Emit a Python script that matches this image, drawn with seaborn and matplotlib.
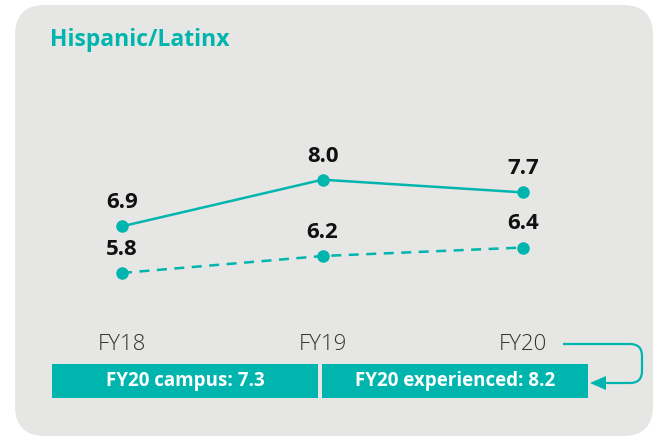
import matplotlib
matplotlib.use("Agg")
import matplotlib.pyplot as plt
import seaborn as sns
import pandas as pd
import matplotlib.transforms as mtrans
from matplotlib.patches import FancyBboxPatch, Rectangle
from matplotlib.path import Path
import matplotlib.patches as mpatches

years = ["FY18", "FY19", "FY20"]
experienced = [6.9, 8.0, 7.7]
campus = [5.8, 6.2, 6.4]
title = "Hispanic/Latinx"
summary_labels = ["FY20 campus: 7.3", "FY20 experienced: 8.2"]

TEAL = "#00b5ae"
PANEL = "#e6e6e4"

sns.set_theme(style="white")
plt.rcParams["font.family"] = ["Open Sans", "DejaVu Sans"]

fig = plt.figure(figsize=(6.56, 4.37), dpi=100)
fig.patch.set_facecolor("white")

# Decoration layer in pixel coordinates
deco = fig.add_axes([0, 0, 1, 1], zorder=0)
deco.set_xlim(0, 656)
deco.set_ylim(437, 0)
deco.axis("off")
deco.add_patch(FancyBboxPatch((15, 5), 638, 431, boxstyle="round,pad=0,rounding_size=30",
                              fc=PANEL, ec="none"))
deco.text(50, 40, title, color=TEAL, fontsize=16.5, fontweight="bold", va="center", ha="left")

# Summary boxes
boxes = [(52, 318), (322, 588)]
for (x0, x1), lab in zip(boxes, summary_labels):
    deco.add_patch(Rectangle((x0, 364), x1 - x0, 34, fc=TEAL, ec="none"))
    deco.text((x0 + x1) / 2, 381, lab, color="white", fontsize=13.5, fontweight="bold",
              ha="center", va="center")

# Connector arrow
r = 12
verts = [(563, 344), (642 - r, 344), (642, 344), (642, 344 + r), (642, 383 - r),
         (642, 383), (642 - r, 383), (600, 383)]
codes = [Path.MOVETO, Path.LINETO, Path.CURVE3, Path.CURVE3, Path.LINETO,
         Path.CURVE3, Path.CURVE3, Path.LINETO]
deco.add_patch(mpatches.PathPatch(Path(verts, codes), fc="none", ec=TEAL, lw=1.6))
deco.add_patch(mpatches.Polygon([(590, 383), (606, 376), (606, 390)], closed=True, fc=TEAL, ec="none"))

# Data layer
ax = fig.add_axes([0, 0, 1, 1], zorder=1)
ax.patch.set_alpha(0)
ppx = 200.5
xlim = (-122 / ppx, (656 - 122) / ppx)
ylim = (1.931, 12.238)

xs = list(range(len(years)))
df = pd.DataFrame({"x": xs * 2, "v": experienced + campus,
                   "series": ["experienced"] * 3 + ["campus"] * 3})
sns.lineplot(data=df[df.series == "experienced"], x="x", y="v", ax=ax, color=TEAL, lw=1.8,
             marker="o", markersize=9, markeredgewidth=0, legend=False)
sns.lineplot(data=df[df.series == "campus"], x="x", y="v", ax=ax, color=TEAL, lw=1.8,
             linestyle=(0, (4, 3)), marker="o", markersize=9, markeredgewidth=0, legend=False)
ax.set_xlim(*xlim)
ax.set_ylim(*ylim)
ax.axis("off")

for series in (experienced, campus):
    for x, v in zip(xs, series):
        ax.annotate(f"{v:.1f}", (x, v), xytext=(0, 17), textcoords="offset points",
                    ha="center", va="center", fontsize=16, fontweight="bold", color="#111111")

tr = mtrans.blended_transform_factory(ax.transData, deco.transData)
for x, lab in zip(xs, years):
    ax.text(x, 345, lab, transform=tr, ha="center", va="center", fontsize=16,
            color="#333333", fontweight="light")

fig.savefig("out.png", dpi=100)
